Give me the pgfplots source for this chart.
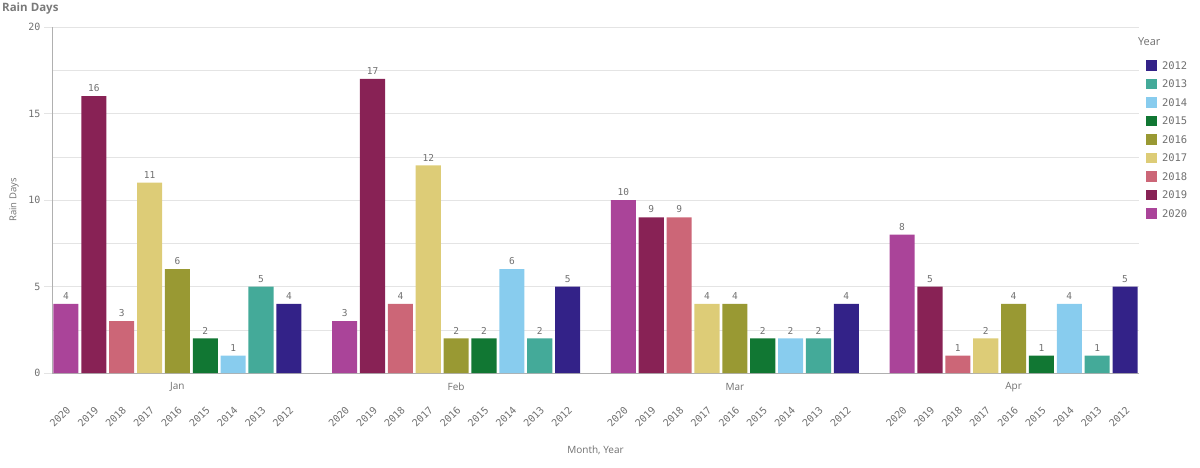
\documentclass[border=0pt]{standalone}
\usepackage{fontspec}
\setmainfont{Open Sans}
\newfontfamily\mono{DejaVu Sans Mono}
\usepackage{pgfplots}
\pgfplotsset{compat=1.18}
\definecolor{c2012}{HTML}{332288}
\definecolor{c2013}{HTML}{44AA99}
\definecolor{c2014}{HTML}{88CCEE}
\definecolor{c2015}{HTML}{117733}
\definecolor{c2016}{HTML}{999933}
\definecolor{c2017}{HTML}{DDCC77}
\definecolor{c2018}{HTML}{CC6677}
\definecolor{c2019}{HTML}{882255}
\definecolor{c2020}{HTML}{AA4499}
\definecolor{txtgray}{HTML}{707070}
\definecolor{titlegray}{HTML}{7A7A7A}
\definecolor{gridc}{HTML}{E4E4E4}
\definecolor{axisc}{HTML}{B0B0B0}
\pgfplotsset{yr/.style={ybar, bar shift=0pt, bar width=0.9, fill=#1, draw=none,
  legend image code/.code={\fill[#1] (0pt,-5pt) rectangle (11pt,5.5pt);}}}
\begin{document}
\begin{tikzpicture}[x=1pt,y=1pt]
\path[use as bounding box] (0,0) rectangle (1200,467);
\node[anchor=west, font=\bfseries\fontsize{11.5}{13}\selectfont, text=titlegray, inner sep=0pt] at (2,458) {Rain Days};
\begin{axis}[
  at={(52pt,94pt)}, anchor=south west,
  scale only axis, width=1087pt, height=346pt,
  xmin=-0.5, xmax=38.5, ymin=0, ymax=20,
  clip=false,
  axis x line*=bottom, axis y line*=left,
  axis line style={axisc},
  ytick={0,5,10,15,20},
  minor ytick={2.5,7.5,12.5,17.5},
  ymajorgrids, yminorgrids,
  major grid style={gridc},
  minor grid style={gridc},
  major tick length=8pt, minor tick length=0pt,
  tick align=outside,
  ytick style={gridc},
  xtick style={draw=none},
  xtick={0,1,2,3,4,5,6,7,8,10,11,12,13,14,15,16,17,18,20,21,22,23,24,25,26,27,28,30,31,32,33,34,35,36,37,38},
  xticklabels={2020,2019,2018,2017,2016,2015,2014,2013,2012,2020,2019,2018,2017,2016,2015,2014,2013,2012,2020,2019,2018,2017,2016,2015,2014,2013,2012,2020,2019,2018,2017,2016,2015,2014,2013,2012},
  /pgf/number format/assume math mode=true,
  yticklabel style={font=\mono\fontsize{10}{10}\selectfont, text=txtgray},
  xticklabel style={font=\mono\fontsize{10}{10}\selectfont, text=txtgray, yshift=-23pt, xshift=0pt, rotate=45, anchor=north east, inner sep=1pt},
  ylabel={Rain Days},
  ylabel style={at={(axis description cs:-0.035,0.5)}, anchor=center, font=\fontsize{9.5}{10}\selectfont, text=txtgray},
  xlabel={Month, Year},
  xlabel style={at={(axis description cs:0.5,-0.2225)}, anchor=center, font=\fontsize{10}{10}\selectfont, text=txtgray},
  nodes near coords,
  every node near coord/.append style={font=\mono\fontsize{9.5}{9.5}\selectfont, text=txtgray, anchor=south, inner sep=4pt},
  legend style={at={(1.0035,0.9636)}, anchor=north west, draw=none, fill=none,
    font=\mono\fontsize{10.5}{10.5}\selectfont, text=txtgray, row sep=7.5pt,
    nodes={inner sep=1pt, text height=8pt, text depth=1pt}},
  legend cell align=left,
]
\addlegendimage{empty legend}
\addlegendentry{\hspace*{-20pt}\raisebox{5pt}{\rmfamily\fontsize{11}{10}\selectfont Year}}
\addplot[yr=c2012] coordinates {(8,4) (18,5) (28,4) (38,5)};
\addlegendentry{\hspace{4pt}2012}
\addplot[yr=c2013] coordinates {(7,5) (17,2) (27,2) (37,1)};
\addlegendentry{\hspace{4pt}2013}
\addplot[yr=c2014] coordinates {(6,1) (16,6) (26,2) (36,4)};
\addlegendentry{\hspace{4pt}2014}
\addplot[yr=c2015] coordinates {(5,2) (15,2) (25,2) (35,1)};
\addlegendentry{\hspace{4pt}2015}
\addplot[yr=c2016] coordinates {(4,6) (14,2) (24,4) (34,4)};
\addlegendentry{\hspace{4pt}2016}
\addplot[yr=c2017] coordinates {(3,11) (13,12) (23,4) (33,2)};
\addlegendentry{\hspace{4pt}2017}
\addplot[yr=c2018] coordinates {(2,3) (12,4) (22,9) (32,1)};
\addlegendentry{\hspace{4pt}2018}
\addplot[yr=c2019] coordinates {(1,16) (11,17) (21,9) (31,5)};
\addlegendentry{\hspace{4pt}2019}
\addplot[yr=c2020] coordinates {(0,4) (10,3) (20,10) (30,8)};
\addlegendentry{\hspace{4pt}2020}
\node[font=\fontsize{10}{10}\selectfont, text=txtgray] at ([yshift=-14pt]axis cs:4,0) {Jan};
\node[font=\fontsize{10}{10}\selectfont, text=txtgray] at ([yshift=-14pt]axis cs:14,0) {Feb};
\node[font=\fontsize{10}{10}\selectfont, text=txtgray] at ([yshift=-14pt]axis cs:24,0) {Mar};
\node[font=\fontsize{10}{10}\selectfont, text=txtgray] at ([yshift=-14pt]axis cs:34,0) {Apr};
\end{axis}
\end{tikzpicture}
\end{document}
